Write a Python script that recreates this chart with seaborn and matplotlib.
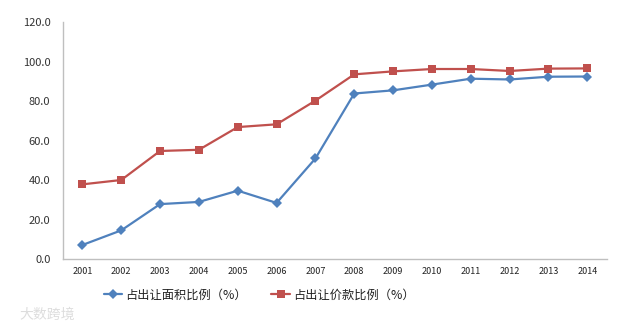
import matplotlib
matplotlib.use("Agg")
import matplotlib.pyplot as plt
import seaborn as sns
import pandas as pd

years = [2001, 2002, 2003, 2004, 2005, 2006, 2007,
         2008, 2009, 2010, 2011, 2012, 2013, 2014]
area_share = [7.1, 14.5, 27.8, 28.9, 34.6, 28.4, 50.9,
              83.8, 85.4, 88.3, 91.3, 90.9, 92.3, 92.4]
price_share = [37.8, 40.0, 54.7, 55.3, 66.8, 68.2, 80.2,
               93.5, 95.0, 96.2, 96.2, 95.2, 96.4, 96.5]
series_names = ["占出让面积比例（%）", "占出让价款比例（%）"]
y_ticks = [0, 20, 40, 60, 80, 100, 120]

sns.set_theme(style="white")
plt.rcParams["font.family"] = ["Noto Sans CJK SC", "DejaVu Sans"]

df = pd.DataFrame({
    "year": years * 2,
    "value": area_share + price_share,
    "series": [series_names[0]] * len(years) + [series_names[1]] * len(years),
})

fig = plt.figure(figsize=(6.4, 3.26), dpi=100)
ax = fig.add_axes([0.0984, 0.2055, 0.8496, 0.727])

sns.lineplot(
    data=df, x="year", y="value", hue="series", style="series",
    hue_order=series_names, style_order=series_names,
    palette=["#4F81BD", "#C0504D"],
    markers=["D", "s"], dashes=False, markersize=5.5,
    markeredgewidth=0, linewidth=1.6, ax=ax,
)

ax.set_xlim(years[0] - 0.5, years[-1] + 0.5)
ax.set_ylim(0, 120)
ax.set_xticks(years)
ax.set_xticklabels([str(y) for y in years], fontsize=6.5, color="#222222")
ax.set_yticks(y_ticks)
ax.set_yticklabels([f"{v:.1f}" for v in y_ticks], fontsize=8, color="#333333")
ax.tick_params(axis="x", length=0, pad=6)
ax.tick_params(axis="y", length=0, pad=9)
ax.set_xlabel("")
ax.set_ylabel("")
for side in ["top", "right"]:
    ax.spines[side].set_visible(False)
for side in ["left", "bottom"]:
    ax.spines[side].set_color("#BFBFBF")
    ax.spines[side].set_linewidth(1.0)

handles, labels = ax.get_legend_handles_labels()
ax.legend_.remove()
fig.legend(handles, labels, loc="center", bbox_to_anchor=(0.405, 0.095),
           ncol=2, frameon=False, fontsize=8.8, handlelength=1.5,
           columnspacing=2.0, handletextpad=0.25, labelcolor="#222222")

fig.text(0.03, 0.035, "大数跨境", fontsize=10, color="#DDDDDD", ha="left", va="center")

fig.savefig("out.png", dpi=100)
